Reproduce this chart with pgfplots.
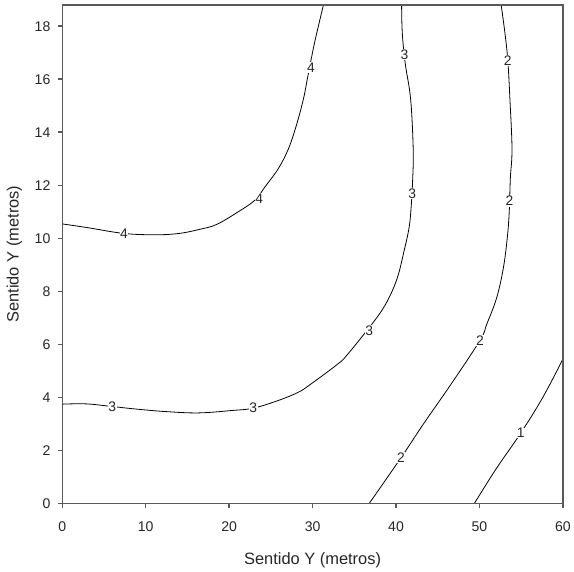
\documentclass[border=0pt]{standalone}
\usepackage{fontspec}
\setmainfont{Liberation Sans}
\usepackage{pgfplots}
\pgfplotsset{compat=1.18}
\usetikzlibrary{calc}
\definecolor{axgray}{RGB}{90,90,90}
\begin{document}
\begin{tikzpicture}
\begin{axis}[
  scale only axis,
  width=504bp, height=501.7bp,
  xmin=0, xmax=60, ymin=0, ymax=18.8,
  xtick={0,10,...,60}, ytick={0,2,...,18},
  tick align=outside,
  xtick pos=bottom, ytick pos=left,
  major tick length=4.5bp,
  axis line style={axgray, line width=1.5bp},
  every tick/.style={axgray, line width=1.4bp},
  /pgf/number format/assume math mode=true,
  tick label style={font=\fontsize{14.2}{16}\selectfont, text=black!85},
  xticklabel style={yshift=-11bp},
  yticklabel style={xshift=-4bp},
  label style={font=\fontsize{16.6}{19}\selectfont, text=black!85},
  xlabel={Sentido Y (metros)},
  ylabel={Sentido Y (metros)},
  xlabel style={yshift=-14bp},
  ylabel style={yshift=6bp},
  clip=true,
]
\addplot[black, line width=0.8bp, smooth, tension=0.6] coordinates {
(0,10.54) (3,10.4) (7.4,10.18) (11.2,10.13) (14,10.18) (16.4,10.33) (18.5,10.52) (21.1,11.0) (23.1,11.44) (24.3,11.94) (25.9,12.63) (27.1,13.37) (28.05,14.25) (28.9,15.25) (29.44,16.12) (30.24,17.38) (31.3,18.8)};
\addplot[black, line width=0.8bp, smooth, tension=0.6] coordinates {
(0,3.74) (2.9,3.75) (6.0,3.65) (9,3.55) (12.4,3.46) (16.3,3.41) (20.3,3.5) (22.9,3.59) (25.9,3.88) (28.3,4.19) (29.8,4.5) (33.0,5.25) (34.2,5.62) (37.4,6.88) (38.96,7.63) (40.15,8.5) (40.95,9.5) (41.55,10.37) (41.8,11.12) (42.0,12.25) (42.06,13.37) (41.75,15.25) (41.1,16.6) (40.75,17.75) (40.67,18.8)};
\addplot[black, line width=0.8bp, smooth, tension=0.6] coordinates {
(36.8,0) (40.6,1.72) (43.3,3.0) (46.5,4.45) (50.07,6.15) (50.87,6.75) (52.06,7.75) (52.86,8.87) (53.33,10.0) (53.57,11.0) (53.7,12.25) (53.9,13.37) (53.65,15.25) (53.4,16.7) (53.05,17.75) (52.6,18.8)};
\addplot[black, line width=0.8bp, smooth, tension=0.6] coordinates {
(49.4,0) (52,1.3) (54.95,2.65) (57.6,4.0) (60,5.44)};
\begin{scope}[every node/.style={fill=white, inner sep=0.6bp, font=\fontsize{14}{15}\selectfont, text=black!85}]
\node at (axis cs:7.4,10.18) {4};
\node at (axis cs:23.6,11.5) {4};
\node at (axis cs:29.8,16.44) {4};
\node at (axis cs:6.0,3.65) {3};
\node at (axis cs:22.9,3.59) {3};
\node at (axis cs:36.8,6.5) {3};
\node at (axis cs:41.94,11.69) {3};
\node at (axis cs:41.0,16.94) {3};
\node at (axis cs:40.6,1.72) {2};
\node at (axis cs:50.07,6.15) {2};
\node at (axis cs:53.6,11.4) {2};
\node at (axis cs:53.4,16.7) {2};
\node at (axis cs:54.95,2.65) {1};
\end{scope}
\draw[axgray, line width=1.5bp] (rel axis cs:0,0) rectangle (rel axis cs:1,1);
\end{axis}
\path ($(current axis.south west)+(-62.7bp,-62.3bp)$) rectangle ($(current axis.north east)+(7.3bp,5bp)$);
\end{tikzpicture}
\end{document}
